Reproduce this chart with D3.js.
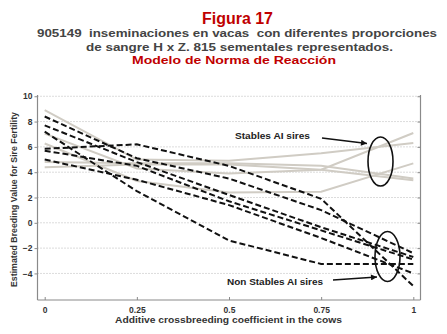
<!DOCTYPE html>
<html><head><meta charset="utf-8">
<script src="https://cdn.jsdelivr.net/npm/d3@7"></script>
<style>body{margin:0;background:#fff}svg{display:block}text{font-family:Arial,"Liberation Sans",sans-serif;font-weight:bold}</style>
</head><body><svg id="c" width="447" height="334"></svg>
<script>
const xs = [0, 0.25, 0.5, 0.75, 1];
const xTickLabels = ["0", "0.25", "0.5", "0.75", "1"];
const yTicks = [10, 8, 6, 4, 2, 0, -2, -4];
// Stable AI sires (grey solid)
const stable1 = [8.9, 5.0, 4.9, 5.5, 6.3];
const stable2 = [7.05, 4.3, 3.9, 4.2, 7.1];
const stable3 = [4.8, 4.7, 4.7, 4.5, 3.5];
const stable4 = [4.4, 4.6, 4.6, 4.2, 3.37];
const stable5 = [6.27, 3.3, 2.4, 2.45, 4.7];
// Non stable AI sires (black dashed)
const nonStable1 = [7.2, 2.5, -1.4, -3.25, -3.25];
const nonStable2 = [5.85, 6.2, 4.5, 1.9, -5.0];
const nonStable3 = [8.4, 5.1, 3.5, 1.0, -2.4];
const nonStable4 = [7.7, 4.8, 2.2, -0.35, -2.7];
const nonStable5 = [5.7, 4.5, 1.7, -0.6, -2.9];
const nonStable6 = [5.0, 3.4, 1.4, -1.2, -4.0];
const stableSeries = [stable1, stable2, stable3, stable4, stable5];
const nonStableSeries = [nonStable1, nonStable2, nonStable3, nonStable4, nonStable5, nonStable6];

const svg = d3.select("#c");
const L = 37.5, R = 420.5, T = 95, B = 300;
const x = d3.scaleLinear().domain([-0.0195, 1.0195]).range([L, R]);
const y = d3.scaleLinear().domain([-6.1, 10.1]).range([B, T]);

function txt(s, cx, cy, size, fill, len) {
  const t = svg.append("text").attr("x", cx).attr("y", cy).attr("text-anchor", "middle")
    .attr("fill", fill).attr("font-size", size).style("white-space", "pre").text(s);
  if (len) t.attr("textLength", len).attr("lengthAdjust", "spacingAndGlyphs");
  return t;
}
// titles
txt("Figura 17", 237.5, 24, 16, "#c00000", 71);
txt("905149  inseminaciones en vacas  con diferentes proporciones", 237, 37, 11.5, "#444", 400);
txt("de sangre H x Z. 815 sementales representados.", 239.5, 51, 11.5, "#444", 307);
txt("Modelo de Norma de Reacción", 234, 63.5, 11.5, "#c00000", 204);

// gridlines
svg.append("g").selectAll("line").data(yTicks).join("line")
  .attr("x1", L).attr("x2", R).attr("y1", d => y(d)).attr("y2", d => y(d))
  .attr("stroke", "#b8b8b8").attr("stroke-width", 1).attr("stroke-dasharray", "1,2");

// axes
const yAxis = d3.axisLeft(y).tickValues(yTicks).tickSize(3).tickPadding(2).tickFormat(d3.format("d"));
const gy = svg.append("g").attr("transform", `translate(${L},0)`).call(yAxis);
const yAxisR = d3.axisRight(y).tickValues(yTicks).tickSize(-3).tickFormat("");
const gyr = svg.append("g").attr("transform", `translate(${R},0)`).call(yAxisR);
const xAxis = d3.axisBottom(x).tickValues(xs).tickSize(-3).tickPadding(7).tickFormat((d, i) => xTickLabels[i]);
const gx = svg.append("g").attr("transform", `translate(0,${B})`).call(xAxis);
[gy, gyr, gx].forEach(g => {
  g.select(".domain").attr("stroke", "#8a8a8a").attr("stroke-width", 1.2);
  g.selectAll(".tick line").attr("stroke", "#8a8a8a");
  g.selectAll("text").attr("fill", "#333").attr("font-size", 8.5).attr("font-weight", "bold");
});
gy.select(".domain").attr("d", `M0,${T}V${B}`);
gyr.select(".domain").attr("d", `M0,${T}V${B}`);
gx.select(".domain").attr("d", `M${L},0H${R}`);

// axis titles
txt("Additive crossbreeding coefficient in the cows", 228.5, 323, 9, "#333", 227);
txt("Estimated Breeding Value for Sire Fertility", 0, 0, 9, "#333", 175)
  .attr("transform", "translate(17,199.5) rotate(-90)");

const line = d3.line().x((d, i) => x(xs[i])).y(d => y(d));
svg.append("g").selectAll("path").data(stableSeries).join("path")
  .attr("d", line).attr("fill", "none").attr("stroke", "#d0ccc4").attr("stroke-width", 2);
svg.append("g").selectAll("path").data(nonStableSeries).join("path")
  .attr("d", line).attr("fill", "none").attr("stroke", "#111").attr("stroke-width", 2)
  .attr("stroke-dasharray", "6,3");

// annotations
const defs = svg.append("defs");
defs.append("marker").attr("id", "ah").attr("viewBox", "0 0 10 10").attr("refX", 10).attr("refY", 5)
  .attr("markerWidth", 7).attr("markerHeight", 6).attr("orient", "auto").attr("markerUnits", "userSpaceOnUse")
  .append("path").attr("d", "M0,0L10,5L0,10z").attr("fill", "#111");
txt("Stables AI sires", 272.5, 139, 8.8, "#222", 75);
svg.append("line").attr("x1", 322).attr("y1", 138).attr("x2", 367).attr("y2", 143.5)
  .attr("stroke", "#111").attr("stroke-width", 1.3).attr("marker-end", "url(#ah)");
svg.append("ellipse").attr("cx", 380.5).attr("cy", 161.5).attr("rx", 12.5).attr("ry", 24.5)
  .attr("fill", "none").attr("stroke", "#111").attr("stroke-width", 1.6);
txt("Non Stables AI sires", 275, 285, 8.8, "#222", 96);
svg.append("line").attr("x1", 333).attr("y1", 280).attr("x2", 377).attr("y2", 277)
  .attr("stroke", "#111").attr("stroke-width", 1.3).attr("marker-end", "url(#ah)");
svg.append("ellipse").attr("cx", 387.5).attr("cy", 256.5).attr("rx", 12.5).attr("ry", 25)
  .attr("fill", "none").attr("stroke", "#111").attr("stroke-width", 1.6);
</script></body></html>
